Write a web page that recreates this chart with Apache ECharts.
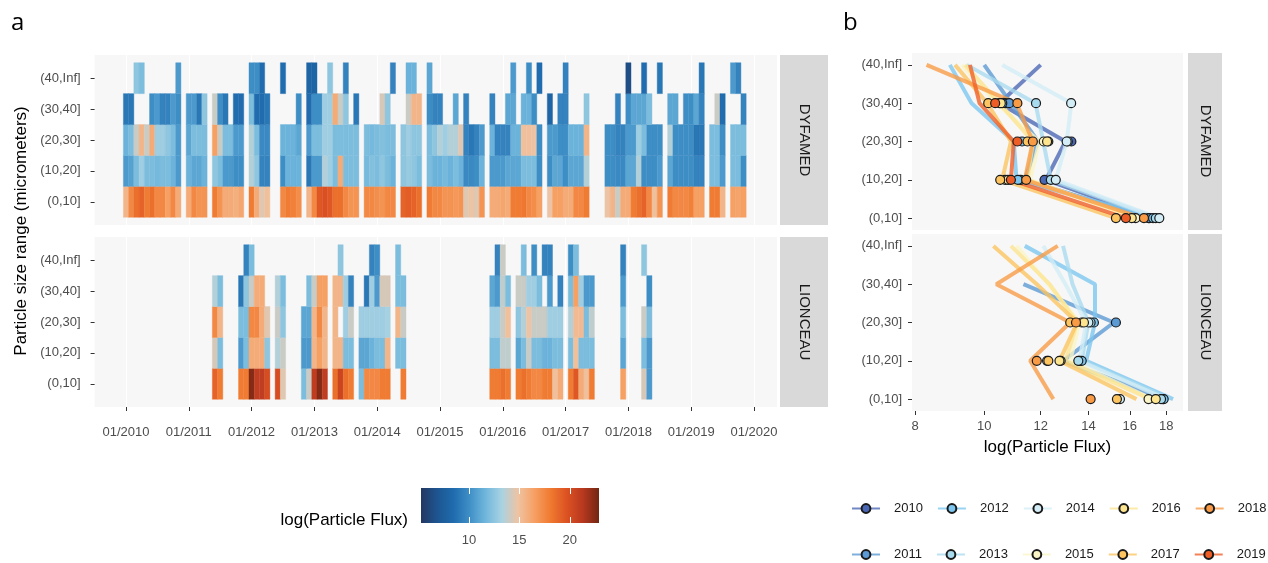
<!DOCTYPE html>
<html>
<head>
<meta charset="utf-8">
<title>Particle flux DYFAMED / LIONCEAU</title>
<script src="https://cdn.jsdelivr.net/npm/echarts@6/dist/echarts.min.js"></script>
<style>
    *{margin:0;padding:0}
    body{background:#fff}
    #chart{width:1268px;height:563px}
</style>
</head>
<body>
<div id="chart"></div>
<script>
var _ = null;
var FONT = "'Liberation Sans', Arial, sans-serif";

var sizes = ['(0,10]', '(10,20]', '(20,30]', '(30,40]', '(40,Inf]'];
var yearTicks = [2010, 2011, 2012, 2013, 2014, 2015, 2016, 2017, 2018, 2019, 2020];
var fluxTicks = [8, 10, 12, 14, 16, 18];
var barTicks = [10, 15, 20];

// ---- panel a : monthly log(Particle Flux), one row per year (Jan..Dec) ----
// DYFAMED starts 01/2010
var dyfStart = 0;
var dyf_0_10 = [].concat(
    [15.5,17.5,18.5,19,18,18.5,17.5,17.5,16.5,17.5,16,_],
    [16,17.5,17,17,_,18,17,16,16,15.8,16.2,_],
    [18,16,14.5,15,_,_,17.5,18,17.8,17.3,_,15.5],
    [17.5,19.5,19.8,19.5,18.5,18.5,17.5,17,17,_,17.5,17.5],
    [17.2,17,17.5,17.5,_,19,19.2,19,18.5,_,18,17.5],
    [17.5,17,17,16.8,17,14.5,14.8,14.5,17,_,16,16],
    [16.2,16,18,18,18.2,17.5,17.3,16.5,_,14.8,16.5,16.5],
    [16,16,17.5,17.5,18,_,_,_,14.8,15.5,14,16],
    [16,18,18.5,19,17.5,15,17,_,18,17.5,17.5,17.5],
    [17.8,16.5,16.5,_,18,18,15.5,_,16.5,16.3,16.5]
);
var dyf_10_20 = [].concat(
    [10.5,10.8,12,13,12,12,11.8,12,12,11.5,10.5,_],
    [11.5,11,11,11.5,_,12.5,12,10.5,10.5,10,10,_],
    [13.5,12.5,9.5,9.5,_,_,10,11.5,11.5,11.5,_,9],
    [10.5,10.5,13.5,13,12,16,12,12,12,_,11.8,12.2],
    [12,12.5,12,11.5,_,12.5,12.8,12.5,12,_,12,11.5],
    [11.5,11.8,11.5,12,11.5,9.8,9.8,10,11.5,_,10.5,10.5],
    [10.5,11,11,11,12,12,12,10,_,10,11,11],
    [10,11,11,11,13.5,_,_,_,10,10,9.8,9.8],
    [11,11,13.5,10,10,10,10.5,_,11,10,10,10],
    [10,9.5,9.5,_,12,12,10.5,_,12,12,10]
);
var dyf_20_30 = [].concat(
    [11.5,12,14,15.5,14,16,13,13,12.5,12,10.5,_],
    [11,12,12,12,_,16.5,14,12,12,10.5,10.5,_],
    [13.5,12,9.8,9.8,_,_,11.5,11.5,11.5,11,_,10.5],
    [12,12,13,13,12,12,12,12,12,_,12,11.8],
    [12,12.2,12,12,_,12.5,13,12.5,12.5,_,12,12.5],
    [13.5,13,13.5,13.5,14.5,9.5,9,9.5,10.5,_,11.5,9.5],
    [9.5,9.5,11.5,11.5,15,15,14.8,10,_,10.5,10.5,10],
    [10,11.5,11.5,11.5,15.5,_,_,_,10,10,9.5,9.5],
    [10.5,10.5,13,12,10,10,10,_,13.5,10,10,10],
    [10,9,9,_,12,12,10,_,12,12,12]
);
var dyf_30_40 = [].concat(
    [9,9,_,_,_,10,10.5,9.5,9.5,10.5,10,_],
    [10.5,10.5,9,12.5,_,14,10,9,_,8.5,8.5,_],
    [12,8.5,8.5,9,_,_,_,_,_,10,_,8.5],
    [10,10,13,13,16,14,12.5,_,9,_,_,_],
    [_,14.3,12.5,_,_,_,14,15.5,15.5,_,10,9.5],
    [9.5,_,_,11,_,9.5,_,_,_,_,9.5,_],
    [_,11,11,_,11.5,11.5,10,_,_,8,_,9.5],
    [9.5,_,_,_,12.5,_,_,_,_,_,9.5,_],
    [10,11,11,11,12,_,_,_,11,11,_,10],
    [10,11,9.5,_,_,14,8.5,_,_,_,9.5]
);
var dyf_40_inf = [].concat(
    [_,_,12.5,12,_,_,_,_,_,_,10.5,_],
    [_,_,_,_,_,_,_,_,_,_,_,_],
    [10,10,8.5,_,_,_,8.5,_,_,_,_,8],
    [8,_,_,12.5,_,_,9.5,_,_,_,_,_],
    [_,_,_,9.5,_,_,11.5,11.5,_,_,11,_],
    [_,_,_,_,_,_,_,_,_,_,_,_],
    [_,_,10.5,_,_,10,_,8.5,_,_,_,_],
    [9.5,_,_,_,_,_,_,_,_,_,_,_],
    [6.5,_,_,8.5,_,_,9,_,_,_,_,_],
    [_,_,9,_,_,_,_,_,10.5,9.5,_]
);

// LIONCEAU starts 01/2011
var lioStart = 12;
var lio_0_10 = [].concat(
    [_,_,_,_,_,19,18,_,_,_,18,18],
    [22.5,21,21,20,_,20,14.5,_,_,_,12,14],
    [21,22.5,21,_,18.5,20.5,18.5,18,_,12,17.5,17.5],
    [17.5,18,18,_,_,18,_,_,_,_,_,_],
    [_,_,_,_,_,_,_,_,_,_,18,18],
    [18.5,18,_,18,18.5,18,17.5,17.5,18,18,15,16],
    [_,18,19.5,16,15,18,_,_,_,_,_,16.5],
    [_,_,_,14.3,10.5]
);
var lio_10_20 = [].concat(
    [_,_,_,_,_,14.3,12,_,_,_,10.5,12],
    [16,16,16,12.5,_,13.5,14,_,_,_,10.5,10.5],
    [15.5,16.5,15.5,_,15.5,15.5,12,12,_,11,11,11.5],
    [12,12,15.5,_,12,12,_,_,_,_,_,_],
    [_,_,_,_,_,_,_,_,_,_,12,12],
    [13.8,13.8,_,11,12,14,12,12,11.5,11.5,12,12],
    [_,12,15,12,12,12,_,_,_,_,_,11],
    [_,_,_,12,10.5]
);
var lio_20_30 = [].concat(
    [_,_,_,_,_,17.5,15.5,_,_,_,12,12],
    [17.5,17.5,16,14.5,_,14,12.5,_,_,_,11,11],
    [15.5,17.5,15.5,_,15.5,_,13,14,_,13,13,13],
    [13,13,13.2,_,15.5,14,_,_,_,_,_,_],
    [_,_,_,_,_,_,_,_,_,_,13,13],
    [14,15,_,12.5,13.5,14.8,14,14,14,13,13,13],
    [_,13.5,15.3,15.3,12,13.8,_,_,_,_,_,12],
    [_,_,_,14,12]
);
var lio_30_40 = [].concat(
    [_,_,_,_,_,13.5,12,_,_,_,9,12.5],
    [14,16,16,_,_,13.5,12,_,_,_,_,12],
    [14,16.5,16.5,_,15.5,15.5,13,9.5,_,_,9,13],
    [10.5,14.3,14.3,_,12,12,_,_,_,_,_,_],
    [_,_,_,_,_,_,_,_,_,_,11,10.5],
    [13.8,12,_,14,14,13,13,12,_,10.5,_,9.5],
    [_,12,16.5,13,10.5,10.5,_,_,_,_,_,10.5],
    [_,_,_,_,10]
);
var lio_40_inf = [].concat(
    [_,_,_,_,_,_,_,_,_,_,_,9.5],
    [12,_,_,_,_,_,_,_,_,_,_,_],
    [_,_,_,_,_,12.5,_,_,_,_,_,9.5],
    [10,_,_,_,12,_,_,_,_,_,_,_],
    [_,_,_,_,_,_,_,_,_,_,_,9.5],
    [14,_,_,_,12,_,10,_,9.5,9.5,_,_],
    [_,10,12,_,_,_,_,_,_,_,_,9.5],
    [_,_,_,12.5,_]
);

// ---- panel b : yearly profiles ----
var dyfYears = ['2010','2011','2012','2013','2014','2015','2016','2017','2018','2019'];
var dyfLine_0_10   = [17.25, 17.1, 17.5, 17.5, 17.6, 16.2, 16.5, 15.3, 16.7, 15.8];
var dyfLine_10_20  = [12.2, 11.4, 11.1, 12.4, 12.6, 11.6, 11.5, 10.6, 11.4, 10.9];
var dyfLine_20_30  = [13.0, 11.9, 11.0, 12.1, 13.05, 11.95, 11.7, 10.9, 11.7, 11.0];
var dyfLine_30_40  = [10.5, 10.9, 9.6, 11.8, 13.25, 10.4, 10.5, 10.1, 11.1, 9.85];
var dyfLine_40_inf = [12.0, 10.0, 8.95, 9.45, 10.6, 9.3, 9.4, 9.1, 8.3, 9.55];
var dyfPt_0_10  = [17.0, 17.05, 17.25, 17.4, 17.6, 16.3, 16.1, 15.3, 16.75, 15.8];
var dyfPt_10_20 = [12.15, 11.25, 11.15, 12.4, 12.6, 10.7, 10.8, 10.53, 11.45, 10.9];
var dyfPt_20_30 = [13.25, 12.3, 11.3, 13.1, 13.05, 12.12, 12.25, 11.5, 11.7, 11.13];
var dyfPt_30_40 = [10.7, 10.84, 10.6, 11.82, 13.24, 10.5, 10.55, 10.13, 11.13, 10.36];

var lioYears = ['2011','2012','2013','2014','2015','2016','2017','2018'];
var lioLine_0_10   = [17.9, 18.4, 18.2, 18.0, 17.2, 17.1, 16.35, 12.5];
var lioLine_10_20  = [12.9, 13.9, 13.7, 13.6, 13.2, 13.0, 12.75, 11.6];
var lioLine_20_30  = [15.2, 14.3, 14.0, 13.9, 13.6, 13.5, 13.5, 13.2];
var lioLine_30_40  = [11.35, 14.3, 13.3, 13.0, 12.3, 12.35, 11.85, 10.4];
var lioLine_40_inf = [_, 11.4, 12.9, 12.1, 11.1, 10.9, 10.3, 12.68];
var lioPt_0_10  = [17.8, 17.85, 17.7, 15.5, 17.0, 17.4, 15.35, 14.1];
var lioPt_10_20 = [13.6, 13.7, 13.55, 12.25, 12.8, 12.75, 12.3, 11.85];
var lioPt_20_30 = [15.3, 14.25, 14.1, 14.0, 13.7, 13.8, 13.2, 13.45];

var yearColors = {
    '2010':'#4a67b5','2011':'#5b9ad4','2012':'#7cc6ef','2013':'#a9dbef','2014':'#d3edf6',
    '2015':'#fbf5c6','2016':'#fde48f','2017':'#fdc45f','2018':'#f99b45','2019':'#ef5d26'
};
var heatColors = ['#243760','#1d5591','#1f6bad','#3f8fc7','#70b7dc','#a9d2e2',
                  '#efc3a2','#f6a064','#f07a30','#dc5222','#b8381f','#722713'];
var fluxMin = 5.25, fluxMax = 22.9;

// ---- helpers ----
function tiles(rows, start) {
    var out = [];
    rows.forEach(function (row, k) {
        row.forEach(function (v, i) {
            if (v !== null) out.push([2010 + (start + i) / 12, k, v]);
        });
    });
    return out;
}
function renderTile(params, api) {
    var t = api.value(0), k = api.value(1);
    var a = api.coord([t - 1 / 24, k + 0.5]);
    var b = api.coord([t + 1 / 24, k - 0.5]);
    var c = api.visual('color');
    return {
        type: 'rect',
        shape: {x: a[0], y: a[1], width: b[0] - a[0], height: b[1] - a[1]},
        style: {fill: c, stroke: c, lineWidth: 0.4}
    };
}
function profile(cols, i) {
    var out = [];
    cols.forEach(function (col, k) {
        if (col[i] !== null && col[i] !== undefined) out.push([col[i], k]);
    });
    return out;
}

var labelStyle = {color: '#4d4d4d', fontSize: 13, fontFamily: FONT};
var tickLine = {color: '#333333', width: 1};

function heatY(idx) {
    return {
        gridIndex: idx, type: 'value', min: -0.75, max: 4.75,
        axisLine: {show: false, onZero: false}, splitLine: {show: false},
        axisTick: {show: true, length: 4, customValues: [0,1,2,3,4], lineStyle: tickLine},
        axisLabel: Object.assign({customValues: [0,1,2,3,4], margin: 14,
            formatter: function (v) { return sizes[Math.round(v)]; }}, labelStyle)
    };
}
function heatX(idx, showLabels) {
    return {
        gridIndex: idx, type: 'value', min: 2009.5, max: 2020.366, interval: 0.5,
        axisLine: {show: false, onZero: false},
        splitLine: {show: true, lineStyle: {color: '#ffffff', width: 1}},
        axisTick: {show: showLabels, length: 4, customValues: yearTicks, lineStyle: tickLine},
        axisLabel: Object.assign({show: showLabels, customValues: yearTicks, margin: 19,
            formatter: function (v) { return '01/' + v; }}, labelStyle)
    };
}
function profY(idx) {
    return {
        gridIndex: idx, type: 'value', min: -0.31, max: 4.31,
        axisLine: {show: false, onZero: false}, splitLine: {show: false},
        axisTick: {show: true, length: 4, customValues: [0,1,2,3,4], lineStyle: tickLine},
        axisLabel: Object.assign({customValues: [0,1,2,3,4], margin: 10,
            formatter: function (v) { return sizes[Math.round(v)]; }}, labelStyle)
    };
}
function profX(idx, showLabels) {
    var ax = {
        gridIndex: idx, type: 'log', logBase: 10, min: 7.92, max: 19.0,
        axisLine: {show: false, onZero: false}, splitLine: {show: false}, minorSplitLine: {show: false},
        axisTick: {show: showLabels, length: 4, customValues: fluxTicks, lineStyle: tickLine},
        axisLabel: Object.assign({show: showLabels, customValues: fluxTicks, margin: 9}, labelStyle)
    };
    if (showLabels) {
        ax.name = 'log(Particle Flux)';
        ax.nameLocation = 'middle';
        ax.nameGap = 28;
        ax.nameTextStyle = {fontSize: 17, color: '#000', fontFamily: FONT};
    }
    return ax;
}

var series = [
    {type: 'custom', name: 'DYFAMED', xAxisIndex: 0, yAxisIndex: 0, renderItem: renderTile,
     encode: {x: 0, y: 1}, data: tiles([dyf_0_10, dyf_10_20, dyf_20_30, dyf_30_40, dyf_40_inf], dyfStart)},
    {type: 'custom', name: 'LIONCEAU', xAxisIndex: 1, yAxisIndex: 1, renderItem: renderTile,
     encode: {x: 0, y: 1}, data: tiles([lio_0_10, lio_10_20, lio_20_30, lio_30_40, lio_40_inf], lioStart)}
];

var dyfLineCols = [dyfLine_0_10, dyfLine_10_20, dyfLine_20_30, dyfLine_30_40, dyfLine_40_inf];
var dyfPtCols = [dyfPt_0_10, dyfPt_10_20, dyfPt_20_30, dyfPt_30_40];
var lioLineCols = [lioLine_0_10, lioLine_10_20, lioLine_20_30, lioLine_30_40, lioLine_40_inf];
var lioPtCols = [lioPt_0_10, lioPt_10_20, lioPt_20_30];

function lineSeries(yr, data, ax) {
    return {
        type: 'line', name: yr, xAxisIndex: ax, yAxisIndex: ax, data: data,
        symbol: 'circle', showSymbol: false, symbolSize: 9, silent: true,
        lineStyle: {color: yearColors[yr], width: 4, opacity: 0.78},
        itemStyle: {color: yearColors[yr], borderColor: '#1a1a1a', borderWidth: 1.2}
    };
}
function pointSeries(yr, data, ax) {
    return {
        type: 'scatter', name: yr, xAxisIndex: ax, yAxisIndex: ax, data: data, z: 5,
        symbol: 'circle', symbolSize: 9, silent: true,
        itemStyle: {color: yearColors[yr], borderColor: '#1a1a1a', borderWidth: 1.2, opacity: 1}
    };
}

dyfYears.forEach(function (yr, i) { series.push(lineSeries(yr, profile(dyfLineCols, i), 2)); });
lioYears.forEach(function (yr, i) { series.push(lineSeries(yr, profile(lioLineCols, i), 3)); });
dyfYears.forEach(function (yr, i) { series.push(pointSeries(yr, profile(dyfPtCols, i), 2)); });
lioYears.forEach(function (yr, i) { series.push(pointSeries(yr, profile(lioPtCols, i), 3)); });

var barStops = heatColors.map(function (c, i) { return {offset: i / (heatColors.length - 1), color: c}; });

var legendBase = {
    selectedMode: false, left: 846, width: 440, orient: 'horizontal',
    itemWidth: 28, itemHeight: 11, itemGap: 14,
    textStyle: {fontSize: 13, color: '#1a1a1a', fontFamily: FONT, padding: [0, 0, 0, 9]}
};

var option = {
    animation: false,
    textStyle: {fontFamily: FONT},
    grid: [
        {left: 94.6, top: 55, width: 682.4, height: 170, show: true, backgroundColor: '#f7f7f7', borderWidth: 0},
        {left: 94.6, top: 237, width: 682.4, height: 170, show: true, backgroundColor: '#f7f7f7', borderWidth: 0},
        {left: 912, top: 53, width: 271, height: 177, show: true, backgroundColor: '#f7f7f7', borderWidth: 0},
        {left: 912, top: 234, width: 271, height: 177, show: true, backgroundColor: '#f7f7f7', borderWidth: 0},
        {left: 421, top: 488, width: 178, height: 35, show: true, borderWidth: 0,
         backgroundColor: new echarts.graphic.LinearGradient(0, 0, 1, 0, barStops)}
    ],
    xAxis: [
        heatX(0, false),
        heatX(1, true),
        profX(2, false),
        profX(3, true),
        {gridIndex: 4, type: 'value', min: fluxMin, max: fluxMax,
         axisLine: {show: false, onZero: false}, splitLine: {show: false},
         axisTick: {show: true, inside: true, length: 6, customValues: barTicks, lineStyle: {color: '#ffffff', width: 1}},
         axisLabel: Object.assign({customValues: barTicks, margin: 11}, labelStyle)},
        {gridIndex: 4, type: 'value', position: 'top', min: fluxMin, max: fluxMax,
         axisLine: {show: false, onZero: false}, splitLine: {show: false}, axisLabel: {show: false},
         axisTick: {show: true, inside: true, length: 6, customValues: barTicks, lineStyle: {color: '#ffffff', width: 1}}}
    ],
    yAxis: [
        heatY(0), heatY(1), profY(2), profY(3),
        {gridIndex: 4, type: 'value', min: 0, max: 1, show: false}
    ],
    visualMap: {
        type: 'continuous', show: false, min: fluxMin, max: fluxMax, dimension: 2,
        seriesIndex: [0, 1], inRange: {color: heatColors}
    },
    legend: [
        Object.assign({top: 497, data: ['2010', '2012', '2014', '2016', '2018']}, legendBase),
        Object.assign({top: 543, data: ['2011', '2013', '2015', '2017', '2019']}, legendBase)
    ],
    graphic: [
        {type: 'text', left: 11, top: 11, style: {text: 'a', fontSize: 24, fill: '#000', fontFamily: "'Open Sans', sans-serif"}},
        {type: 'text', left: 843, top: 11, style: {text: 'b', fontSize: 24, fill: '#000', fontFamily: "'Open Sans', sans-serif"}},
        {type: 'text', x: 21, y: 231, rotation: Math.PI / 2,
         style: {text: 'Particle size range (micrometers)', fontSize: 17, fill: '#000', fontFamily: FONT, align: 'center', verticalAlign: 'middle'}},
        {type: 'rect', shape: {x: 780, y: 55, width: 48, height: 170}, style: {fill: '#d9d9d9'}},
        {type: 'rect', shape: {x: 780, y: 237, width: 48, height: 170}, style: {fill: '#d9d9d9'}},
        {type: 'rect', shape: {x: 1188, y: 53, width: 34, height: 177}, style: {fill: '#d9d9d9'}},
        {type: 'rect', shape: {x: 1188, y: 234, width: 34, height: 177}, style: {fill: '#d9d9d9'}},
        {type: 'text', x: 804, y: 140, rotation: -Math.PI / 2,
         style: {text: 'DYFAMED', fontSize: 15, fill: '#1a1a1a', fontFamily: FONT, align: 'center', verticalAlign: 'middle'}},
        {type: 'text', x: 804, y: 322, rotation: -Math.PI / 2,
         style: {text: 'LIONCEAU', fontSize: 15, fill: '#1a1a1a', fontFamily: FONT, align: 'center', verticalAlign: 'middle'}},
        {type: 'text', x: 1205, y: 141, rotation: -Math.PI / 2,
         style: {text: 'DYFAMED', fontSize: 15, fill: '#1a1a1a', fontFamily: FONT, align: 'center', verticalAlign: 'middle'}},
        {type: 'text', x: 1205, y: 322, rotation: -Math.PI / 2,
         style: {text: 'LIONCEAU', fontSize: 15, fill: '#1a1a1a', fontFamily: FONT, align: 'center', verticalAlign: 'middle'}},
        {type: 'text', x: 408, y: 520,
         style: {text: 'log(Particle Flux)', fontSize: 17, fill: '#000', fontFamily: FONT, align: 'right', verticalAlign: 'middle'}}
    ],
    series: series
};

var chart = echarts.init(document.getElementById('chart'));
chart.setOption(option);
</script>
</body>
</html>
